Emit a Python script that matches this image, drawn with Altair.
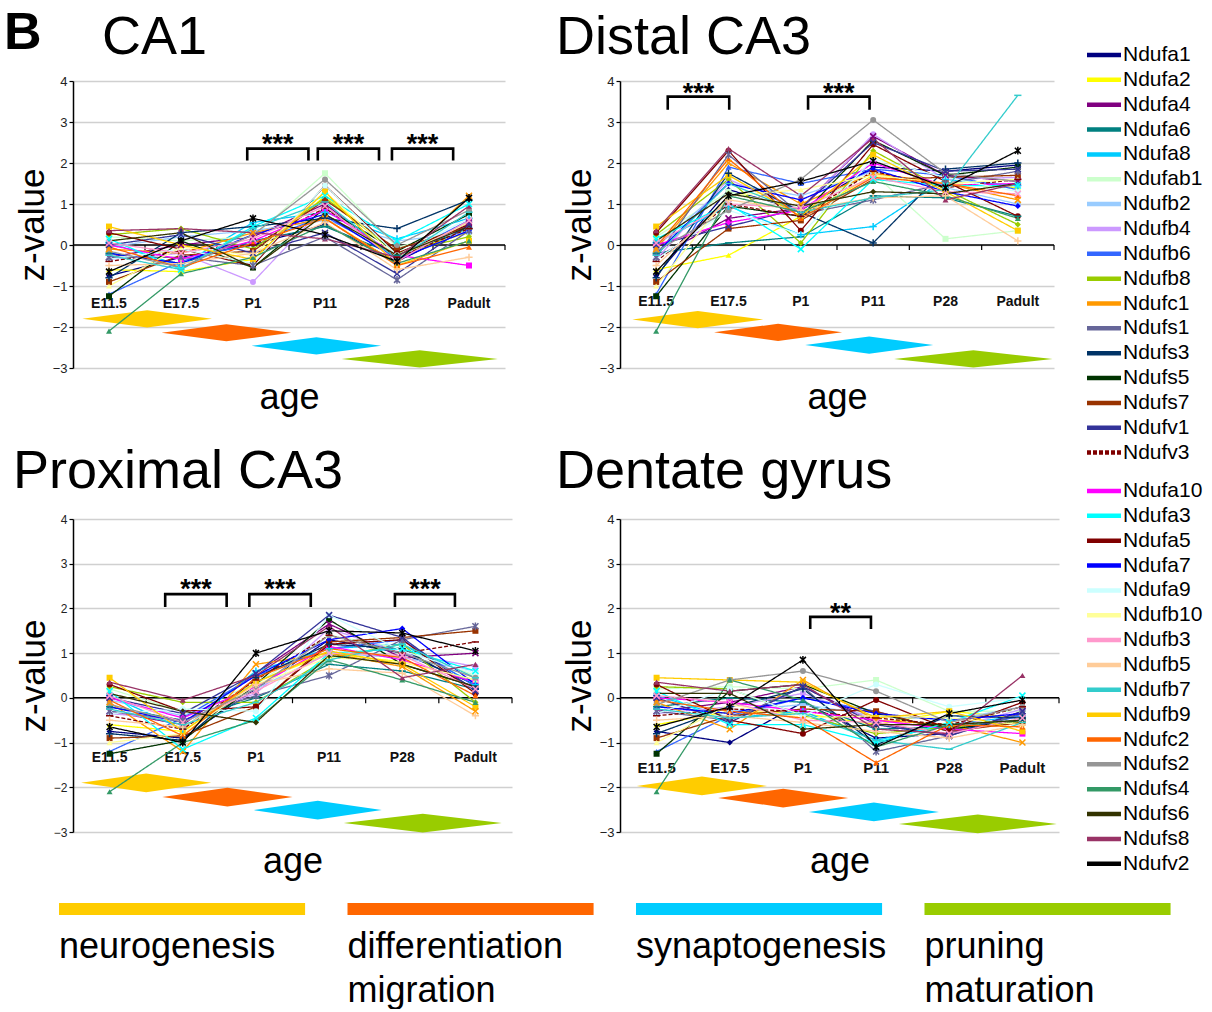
import altair as alt
import pandas as pd

FONT = "Liberation Sans"

AGES = ["E11.5", "E17.5", "P1", "P11", "P28", "Padult"]

GENES = ["Ndufa1", "Ndufa2", "Ndufa4", "Ndufa6", "Ndufa8", "Ndufab1", "Ndufb2", "Ndufb4",
         "Ndufb6", "Ndufb8", "Ndufc1", "Ndufs1", "Ndufs3", "Ndufs5", "Ndufs7", "Ndufv1", "Ndufv3",
         "Ndufa10", "Ndufa3", "Ndufa5", "Ndufa7", "Ndufa9", "Ndufb10", "Ndufb3", "Ndufb5",
         "Ndufb7", "Ndufb9", "Ndufc2", "Ndufs2", "Ndufs4", "Ndufs6", "Ndufs8", "Ndufv2"]
LEGEND_TOP = GENES[:17]
LEGEND_BOTTOM = GENES[17:]

GENE_COLORS = ["#000080", "#FFFF00", "#800080", "#008080", "#00CCFF", "#CCFFCC", "#99CCFF", "#CC99FF",
               "#3366FF", "#99CC00", "#FF9900", "#666699", "#003366", "#003300", "#993300", "#333399", "#800000",
               "#FF00FF", "#00FFFF", "#800000", "#0000FF", "#CCFFFF", "#FFFF99", "#FF99CC", "#FFCC99",
               "#33CCCC", "#FFCC00", "#FF6600", "#969696", "#339966", "#333300", "#993366", "#000000"]

GENE_MARKERS = ["diamond", "triangle", "x", "dash", "plus", "square", "circle", "circle",
                "triangle", "diamond", "x", "star", "plus", "square", "square", "x", "dash",
                "square", "x", "circle", "diamond", "circle", "triangle", "x", "plus",
                "dash", "square", "triangle", "circle", "triangle", "diamond", "triangle", "star"]

# z-values per gene: E11.5, E17.5, P1, P11, P28, Padult
CA1 = {
    "Ndufa1": [-0.75, -0.3, 0.0, 0.5, -0.4, 0.45],
    "Ndufa2": [-0.6, -0.65, -0.35, 1.2, -0.2, 0.3],
    "Ndufa4": [-0.3, 0.0, 0.2, 1.0, -0.35, 0.55],
    "Ndufa6": [-0.2, -0.45, 0.1, 0.45, -0.25, 0.4],
    "Ndufa8": [0.05, -0.5, 0.55, 0.8, 0.15, 0.65],
    "Ndufab1": [0.2, 0.1, 0.2, 1.75, -0.05, 0.35],
    "Ndufb2": [-0.05, 0.2, 0.35, 0.6, 0.1, 0.3],
    "Ndufb4": [-0.35, -0.2, -0.9, 0.95, -0.3, 0.5],
    "Ndufb6": [-1.2, -0.4, 0.05, 0.7, -0.3, 0.6],
    "Ndufb8": [0.25, 0.4, -0.1, 1.15, -0.2, 0.2],
    "Ndufc1": [-0.1, -0.2, 0.3, 0.65, -0.45, 1.2],
    "Ndufs1": [-0.3, -0.3, -0.5, 0.2, -0.85, 0.35],
    "Ndufs3": [-0.8, 0.3, 0.45, 0.65, 0.4, 1.1],
    "Ndufs5": [-1.25, 0.1, -0.55, 0.9, -0.15, 0.75],
    "Ndufs7": [-0.9, -0.25, -0.15, 1.1, -0.1, 0.45],
    "Ndufv1": [0.0, 0.25, -0.2, 0.3, -0.7, 0.5],
    "Ndufv3": [-0.4, -0.15, 0.0, 0.9, -0.3, 0.4],
    "Ndufa10": [0.0, -0.35, 0.1, 0.85, -0.25, -0.5],
    "Ndufa3": [0.15, -0.6, 0.45, 1.2, 0.1, 1.0],
    "Ndufa5": [0.3, -0.1, -0.5, 1.45, -0.2, 0.5],
    "Ndufa7": [-0.2, -0.45, 0.25, 0.75, -0.35, 0.35],
    "Ndufa9": [-0.35, -0.1, -0.45, 1.45, -0.25, 0.65],
    "Ndufb10": [-1.0, -0.05, -0.25, 1.3, -0.3, 0.55],
    "Ndufb3": [0.05, -0.2, 0.15, 0.95, -0.4, 0.6],
    "Ndufb5": [-0.5, -0.45, -0.2, 0.55, -0.6, -0.3],
    "Ndufb7": [-0.25, -0.6, 0.4, 1.05, -0.35, 0.8],
    "Ndufb9": [0.45, 0.0, -0.35, 1.3, -0.5, 0.1],
    "Ndufc2": [-0.05, -0.55, 0.05, 0.65, -0.5, -0.05],
    "Ndufs2": [-0.15, -0.55, 0.25, 1.6, 0.0, 0.85],
    "Ndufs4": [-2.1, -0.7, -0.3, 0.5, -0.45, 0.1],
    "Ndufs6": [0.1, 0.3, -0.55, 0.75, -0.25, 0.45],
    "Ndufs8": [0.35, 0.4, 0.3, 0.15, -0.3, 0.95],
    "Ndufv2": [-0.65, 0.1, 0.65, 0.25, -0.4, 1.15],
}

DISTAL_CA3 = {
    "Ndufa1": [-0.75, 1.35, 0.85, 1.9, 1.8, 1.95],
    "Ndufa2": [-0.6, -0.25, 0.7, 1.7, 1.5, 1.4],
    "Ndufa4": [-0.3, 0.65, 0.9, 2.65, 1.7, 1.55],
    "Ndufa6": [-0.2, 0.05, 0.2, 1.2, 1.15, 0.7],
    "Ndufa8": [0.05, 0.95, 0.25, 0.45, 1.6, 1.45],
    "Ndufab1": [0.2, 1.3, 0.9, 1.75, 0.15, 0.35],
    "Ndufb2": [-0.05, 1.5, 1.2, 1.8, 1.4, 1.0],
    "Ndufb4": [-0.35, 1.6, 0.85, 2.7, 1.6, 1.65],
    "Ndufb6": [-1.2, 1.9, 1.5, 1.85, 1.7, 1.35],
    "Ndufb8": [0.25, 1.6, 0.05, 2.3, 1.35, 0.5],
    "Ndufc1": [-0.1, 2.0, 1.0, 1.75, 1.5, 1.1],
    "Ndufs1": [-0.3, 2.2, 0.75, 1.1, 1.5, 1.8],
    "Ndufs3": [-0.8, 1.75, 0.8, 0.05, 1.85, 2.0],
    "Ndufs5": [-1.25, 0.95, 0.7, 2.55, 1.7, 1.9],
    "Ndufs7": [-0.9, 0.4, 0.6, 1.6, 1.65, 1.7],
    "Ndufv1": [0.0, 0.45, 0.9, 2.5, 1.8, 1.85],
    "Ndufv3": [-0.4, 1.0, 0.7, 1.8, 1.4, 1.6],
    "Ndufa10": [0.0, 0.55, 0.85, 2.0, 1.45, 1.5],
    "Ndufa3": [0.15, 1.0, -0.1, 1.6, 1.45, 1.45],
    "Ndufa5": [0.3, 2.3, 0.35, 2.45, 1.55, 0.7],
    "Ndufa7": [-0.2, 1.5, 1.1, 1.85, 1.3, 0.95],
    "Ndufa9": [-0.35, 0.85, 0.25, 2.1, 1.65, 1.3],
    "Ndufb10": [-1.0, 1.2, 1.35, 1.7, 1.5, 1.6],
    "Ndufb3": [0.05, 1.0, 0.9, 1.65, 1.3, 1.25],
    "Ndufb5": [-0.5, 1.1, 0.85, 1.15, 1.2, 0.1],
    "Ndufb7": [-0.25, 1.5, 0.8, 1.15, 1.35, 3.65],
    "Ndufb9": [0.45, 1.7, 0.7, 2.2, 1.3, 0.35],
    "Ndufc2": [-0.05, 2.1, 0.65, 1.65, 1.5, 1.2],
    "Ndufs2": [-0.15, 0.85, 1.6, 3.05, 1.75, 1.55],
    "Ndufs4": [-2.1, 1.2, 0.8, 1.55, 1.2, 0.65],
    "Ndufs6": [0.1, 1.25, 0.95, 1.3, 1.25, 1.5],
    "Ndufs8": [0.35, 2.35, 1.2, 2.6, 1.1, 1.5],
    "Ndufv2": [-0.65, 1.2, 1.55, 2.05, 1.4, 2.3],
}

PROXIMAL_CA3 = {
    "Ndufa1": [-0.75, -0.9, 0.2, 1.3, 1.0, 0.3],
    "Ndufa2": [-0.6, -0.75, 0.35, 1.0, 0.8, 0.4],
    "Ndufa4": [-0.3, -0.6, 0.55, 1.65, 0.9, 1.0],
    "Ndufa6": [-0.2, -0.5, 0.0, 0.75, 0.6, 0.2],
    "Ndufa8": [0.05, -0.7, 0.6, 1.1, 1.2, 0.3],
    "Ndufab1": [0.2, -0.3, 0.3, 1.4, 1.1, 0.5],
    "Ndufb2": [-0.05, -0.4, 0.2, 1.0, 0.9, 0.6],
    "Ndufb4": [-0.35, -0.5, 0.1, 1.55, 1.0, 0.7],
    "Ndufb6": [-1.2, -0.45, 0.5, 1.1, 1.3, 0.25],
    "Ndufb8": [0.25, -0.1, -0.1, 0.9, 1.2, -0.1],
    "Ndufc1": [-0.1, -1.2, 0.75, 1.0, 0.7, -0.3],
    "Ndufs1": [-0.3, -0.5, 0.05, 0.5, 1.3, 1.6],
    "Ndufs3": [-0.8, -0.95, 0.45, 1.2, 1.1, 0.2],
    "Ndufs5": [-1.25, -0.95, 0.3, 1.75, 0.75, 0.25],
    "Ndufs7": [-0.9, -0.85, -0.2, 1.25, 1.35, 1.5],
    "Ndufv1": [0.0, -0.35, 0.55, 1.85, 1.35, 0.15],
    "Ndufv3": [-0.4, -0.7, 0.4, 1.4, 1.0, 1.25],
    "Ndufa10": [0.0, -0.45, 0.25, 1.15, 0.85, 0.35],
    "Ndufa3": [0.15, -1.15, -0.45, 1.0, 1.1, 0.6],
    "Ndufa5": [0.3, -0.3, -0.2, 1.2, 1.3, 0.1],
    "Ndufa7": [-0.2, -0.55, 0.5, 1.3, 1.55, 0.3],
    "Ndufa9": [-0.35, -0.25, -0.3, 1.85, 1.05, 0.55],
    "Ndufb10": [-1.0, -0.8, 0.3, 0.9, 0.8, 0.4],
    "Ndufb3": [0.05, -0.55, 0.15, 1.0, 0.95, 0.2],
    "Ndufb5": [-0.5, -0.65, 0.3, 0.65, 0.55, -0.4],
    "Ndufb7": [-0.25, -0.6, -0.1, 0.85, 1.2, 0.45],
    "Ndufb9": [0.45, -0.75, 0.35, 1.05, 0.75, -0.2],
    "Ndufc2": [-0.05, -0.85, 0.45, 1.1, 0.9, 0.05],
    "Ndufs2": [-0.15, -0.55, 0.2, 1.4, 1.0, 0.45],
    "Ndufs4": [-2.1, -1.0, -0.5, 0.85, 0.4, -0.1],
    "Ndufs6": [0.1, -0.3, -0.55, 0.95, 0.75, 0.25],
    "Ndufs8": [0.35, -0.05, 0.5, 1.6, 0.45, 0.75],
    "Ndufv2": [-0.65, -1.0, 1.0, 1.5, 1.45, 1.05],
}

DENTATE_GYRUS = {
    "Ndufa1": [-0.75, -1.0, -0.1, -0.9, -0.8, -0.35],
    "Ndufa2": [-0.6, -0.3, -0.35, -0.6, -0.3, -0.45],
    "Ndufa4": [-0.3, -0.1, 0.25, -0.55, -0.85, -0.3],
    "Ndufa6": [-0.2, 0.0, -0.1, -0.7, -0.65, -0.5],
    "Ndufa8": [0.05, -0.45, -0.3, -0.95, -0.6, -0.4],
    "Ndufab1": [0.2, 0.25, 0.2, 0.4, -0.3, -0.3],
    "Ndufb2": [-0.05, -0.3, -0.15, -0.4, -0.5, -0.2],
    "Ndufb4": [-0.35, -0.2, 0.1, -0.5, -0.7, -0.25],
    "Ndufb6": [-1.2, -0.4, 0.0, -0.3, -0.75, -0.4],
    "Ndufb8": [0.25, 0.2, -0.4, -0.8, -0.65, -0.55],
    "Ndufc1": [-0.1, -0.7, 0.4, -0.5, -0.6, -1.0],
    "Ndufs1": [-0.3, -0.5, 0.25, -1.2, -0.85, -0.35],
    "Ndufs3": [-0.8, -0.2, 0.2, -1.05, -0.4, -0.45],
    "Ndufs5": [-1.25, 0.15, 0.3, -0.35, -0.7, -0.5],
    "Ndufs7": [-0.9, -0.4, -0.25, -0.3, -0.75, -0.55],
    "Ndufv1": [0.0, -0.55, 0.25, -0.6, -0.85, -0.3],
    "Ndufv3": [-0.4, -0.25, -0.3, -0.45, -0.6, -0.2],
    "Ndufa10": [0.0, -0.1, -0.3, -0.5, -0.7, -0.8],
    "Ndufa3": [0.15, -0.6, -0.6, -1.0, -0.55, 0.05],
    "Ndufa5": [0.3, -0.5, -0.8, -0.05, -0.7, -0.1],
    "Ndufa7": [-0.2, -0.35, 0.0, -0.35, -0.5, -0.35],
    "Ndufa9": [-0.35, 0.2, -0.4, 0.3, -0.2, 0.0],
    "Ndufb10": [-1.0, -0.15, -0.45, -0.4, -0.45, -0.6],
    "Ndufb3": [0.05, -0.1, -0.5, -0.55, -0.8, -0.45],
    "Ndufb5": [-0.5, -0.4, -0.55, -0.75, -0.9, -0.6],
    "Ndufb7": [-0.25, -0.45, -0.35, -0.95, -1.15, -0.55],
    "Ndufb9": [0.45, 0.4, 0.35, -0.45, -0.3, -0.75],
    "Ndufc2": [-0.05, -0.3, -0.45, -1.45, -0.6, -0.65],
    "Ndufs2": [-0.15, 0.4, 0.6, 0.15, -0.55, -0.2],
    "Ndufs4": [-2.1, 0.4, -0.05, -1.1, -0.6, -0.5],
    "Ndufs6": [0.1, 0.1, -0.7, -0.6, -0.6, -0.5],
    "Ndufs8": [0.35, 0.15, 0.3, -0.7, -0.8, 0.5],
    "Ndufv2": [-0.65, -0.2, 0.85, -1.1, -0.35, -0.05],
}

PHASE_NAMES = ["neurogenesis", "differentiation migration", "synaptogenesis", "pruning maturation"]
PHASE_LABELS = ["neurogenesis", "differentiation\nmigration", "synaptogenesis", "pruning\nmaturation"]
PHASE_COLORS = ["#FFCC00", "#FF6600", "#00CCFF", "#99CC00"]

# annotation geometry (x in age-index units, levels in z units)
NOTES = {
    "CA1": dict(phase_start=[-0.37, 0.73, 1.98, 3.23], phase_end=[1.43, 2.53, 3.78, 5.4],
                phase_level=[-1.8, -2.14, -2.46, -2.78], label_level=-1.43,
                bracket_start=[1.92, 2.9, 3.93], bracket_end=[2.77, 3.75, 4.78],
                bracket_low=2.06, bracket_high=2.35, star_level=2.62, stars=["***", "***", "***"]),
    "Distal CA3": dict(phase_start=[-0.33, 0.8, 2.06, 3.29], phase_end=[1.48, 2.57, 3.83, 5.48],
                       phase_level=[-1.82, -2.13, -2.44, -2.78], label_level=-1.38,
                       bracket_start=[0.16, 2.1], bracket_end=[1.01, 2.95],
                       bracket_low=3.3, bracket_high=3.62, star_level=3.85, stars=["***", "***"]),
    "Proximal CA3": dict(phase_start=[-0.39, 0.72, 1.97, 3.2], phase_end=[1.39, 2.5, 3.72, 5.36],
                         phase_level=[-1.9, -2.22, -2.51, -2.8], label_level=-1.35,
                         bracket_start=[0.76, 1.91, 3.9], bracket_end=[1.6, 2.75, 4.72],
                         bracket_low=2.03, bracket_high=2.32, star_level=2.57, stars=["***", "***", "***"]),
    "Dentate gyrus": dict(phase_start=[-0.27, 0.84, 2.08, 3.31], phase_end=[1.51, 2.62, 3.86, 5.47],
                          phase_level=[-1.97, -2.24, -2.55, -2.82], label_level=-1.57,
                          bracket_start=[2.1], bracket_end=[2.93],
                          bracket_low=1.54, bracket_high=1.81, star_level=2.03, stars=["**"]),
}

# ---------------------------------------------------------------- styling
SHAPE_PATHS = {
    "diamond": "diamond", "square": "square", "triangle": "triangle-up", "circle": "circle",
    "x": "M-1,-1L1,1M-1,1L1,-1",
    "star": "M-1,-1L1,1M-1,1L1,-1M0,-1.3L0,1.3",
    "plus": "M-1.2,0L1.2,0M0,-1.2L0,1.2",
    "dash": "M-1.2,0L1.2,0",
}
FILLED_MARKERS = {"diamond", "square", "triangle", "circle"}
FILLED_GENES = [g for g, m in zip(GENES, GENE_MARKERS) if m in FILLED_MARKERS]
STROKED_GENES = [g for g, m in zip(GENES, GENE_MARKERS) if m not in FILLED_MARKERS]

GENE_COLOR_SCALE = alt.Scale(domain=GENES, range=GENE_COLORS)
GENE_SHAPE_SCALE = alt.Scale(domain=GENES, range=[SHAPE_PATHS[m] for m in GENE_MARKERS])
GENE_DASH_SCALE = alt.Scale(domain=GENES, range=[[4, 2] if g == "Ndufv3" else [1, 0] for g in GENES])
LEGEND_DASH_SCALE = alt.Scale(domain=GENES, range=[[14, 3] if g == "Ndufv3" else [1, 0] for g in GENES])
PHASE_SCALE = alt.Scale(domain=PHASE_NAMES, range=PHASE_COLORS)

X_SCALE = alt.Scale(domain=[-0.5, len(AGES) - 0.5], nice=False, zero=False)
Y_SCALE = alt.Scale(domain=[-3, 4], nice=False, zero=False)
DIAMOND_HALF = 0.21


def panel(name, values, width, height, label_size, tick_size, title_x, title_y, panel_letter=None):
    notes = NOTES[name]
    x_axis = alt.Axis(title="age", labels=False, ticks=False, domain=False, grid=False,
                      titleFont=FONT, titleFontSize=36, titleFontWeight="normal",
                      titleColor="black", titlePadding=12)
    y_axis = alt.Axis(title="z-value", values=list(range(-3, 5)), format="d", grid=True,
                      gridColor="#d0d0d0", gridWidth=1.5, domainColor="black", domainWidth=1.5,
                      tickColor="black", tickSize=4, tickWidth=1.2,
                      labelFont=FONT, labelFontSize=tick_size, labelColor="#222222", labelPadding=2,
                      titleFont=FONT, titleFontSize=35, titleFontWeight="normal",
                      titleColor="black", titlePadding=2)

    def X(f):
        return alt.X(f, type="quantitative", scale=X_SCALE, axis=x_axis)

    def Y(f, stack=False):
        if stack:
            return alt.Y(f, type="quantitative", scale=Y_SCALE, axis=y_axis, stack=None)
        return alt.Y(f, type="quantitative", scale=Y_SCALE, axis=y_axis)

    drows = []
    for k, ph in enumerate(PHASE_NAMES):
        x0, x1, lv = notes["phase_start"][k], notes["phase_end"][k], notes["phase_level"][k]
        drows += [dict(phase=ph, x=x0, lo=lv, hi=lv),
                  dict(phase=ph, x=(x0 + x1) / 2, lo=lv - DIAMOND_HALF, hi=lv + DIAMOND_HALF),
                  dict(phase=ph, x=x1, lo=lv, hi=lv)]
    diamonds = alt.Chart(pd.DataFrame(drows)).mark_area(opacity=1, interpolate="linear").encode(
        x=X("x"), y=Y("lo", stack=True), y2="hi",
        fill=alt.Fill("phase:N", scale=PHASE_SCALE, legend=None),
        detail="phase:N")

    ldf = pd.DataFrame(dict(x=list(range(len(AGES))), age=AGES,
                            lv=[notes["label_level"]] * len(AGES)))
    labels = alt.Chart(ldf).mark_text(font=FONT, fontSize=label_size, fontWeight="bold",
                                      color="#111111", baseline="middle").encode(
        x=X("x"), y=Y("lv"), text="age:N")

    zero = alt.Chart(pd.DataFrame(dict(z=[0]))).mark_rule(color="black", strokeWidth=1.5).encode(y=Y("z"))
    bdf = pd.DataFrame(dict(x=[i + 0.5 for i in range(len(AGES))]))
    bticks = alt.Chart(bdf).transform_calculate(y0="0", y1="-0.12").mark_rule(
        color="black", strokeWidth=1.2).encode(x=X("x"), y=Y("y0:Q"), y2="y1:Q")

    rows = [dict(gene=g, x=i, z=v) for g in GENES for i, v in enumerate(values[g])]
    df = pd.DataFrame(rows)
    lines = alt.Chart(df).mark_line(strokeWidth=1.3).encode(
        x=X("x"), y=Y("z"),
        color=alt.Color("gene:N", scale=GENE_COLOR_SCALE, legend=None),
        strokeDash=alt.StrokeDash("gene:N", scale=GENE_DASH_SCALE, legend=None),
        detail="gene:N", order="x:Q")
    pts_f = alt.Chart(df).transform_filter(
        alt.FieldOneOfPredicate(field="gene", oneOf=FILLED_GENES)).mark_point(
        filled=True, size=36, opacity=1).encode(
        x=X("x"), y=Y("z"),
        color=alt.Color("gene:N", scale=GENE_COLOR_SCALE, legend=None),
        shape=alt.Shape("gene:N", scale=GENE_SHAPE_SCALE, legend=None))
    pts_s = alt.Chart(df).transform_filter(
        alt.FieldOneOfPredicate(field="gene", oneOf=STROKED_GENES)).mark_point(
        filled=False, size=36, opacity=1, strokeWidth=1.5).encode(
        x=X("x"), y=Y("z"),
        color=alt.Color("gene:N", scale=GENE_COLOR_SCALE, legend=None),
        shape=alt.Shape("gene:N", scale=GENE_SHAPE_SCALE, legend=None))

    brows, srows = [], []
    for b, (x0, x1) in enumerate(zip(notes["bracket_start"], notes["bracket_end"])):
        lo, hi = notes["bracket_low"], notes["bracket_high"]
        brows += [dict(b=b, o=0, x=x0, y=lo), dict(b=b, o=1, x=x0, y=hi),
                  dict(b=b, o=2, x=x1, y=hi), dict(b=b, o=3, x=x1, y=lo)]
        srows.append(dict(x=(x0 + x1) / 2, y=notes["star_level"], t=notes["stars"][b]))
    brackets = alt.Chart(pd.DataFrame(brows)).mark_line(color="black", strokeWidth=2.6).encode(
        x=X("x"), y=Y("y"), detail="b:N", order="o:Q")
    stars = alt.Chart(pd.DataFrame(srows)).mark_text(
        font=FONT, fontSize=27, fontWeight="bold", color="black",
        baseline="alphabetic", dy=15).encode(x=X("x"), y=Y("y"), text="t:N")

    title = alt.Chart(pd.DataFrame(dict(t=[name]))).mark_text(
        font=FONT, fontSize=54, color="black", align="left", baseline="alphabetic").encode(
        x=alt.value(title_x), y=alt.value(title_y), text="t:N")

    layers = [diamonds, labels, zero, bticks, lines, pts_f, pts_s, brackets, stars, title]
    if panel_letter:
        letter = alt.Chart(pd.DataFrame(dict(t=[panel_letter]))).mark_text(
            font=FONT, fontSize=52, fontWeight="bold", color="black", align="left",
            baseline="alphabetic").encode(x=alt.value(-69), y=alt.value(-32), text="t:N")
        layers.append(letter)

    return alt.layer(*layers).properties(width=width, height=height)


ca1 = panel("CA1", CA1, 432, 287, 14, 13, 29, -27, panel_letter="B")
distal = panel("Distal CA3", DISTAL_CA3, 434, 287, 14, 13, -64, -27)
prox = panel("Proximal CA3", PROXIMAL_CA3, 439, 313, 14, 12, -60, -31)
dg = panel("Dentate gyrus", DENTATE_GYRUS, 439, 313, 15, 13, -64, -31)


def gene_legend(names, first_slot_px, height):
    step = 24.85
    d = pd.DataFrame(dict(gene=names, slot=list(range(len(names)))))
    lo = -first_slot_px / step
    hi = (height - first_slot_px) / step
    ly = alt.Y("slot:Q", scale=alt.Scale(domain=[lo, hi], reverse=True, nice=False, zero=False), axis=None)
    sw = alt.Chart(d).mark_rule(strokeWidth=4.5).encode(
        x=alt.value(-80), x2=alt.value(-46), y=ly,
        color=alt.Color("gene:N", scale=GENE_COLOR_SCALE, legend=None),
        strokeDash=alt.StrokeDash("gene:N", scale=LEGEND_DASH_SCALE, legend=None))
    tx = alt.Chart(d).mark_text(font=FONT, fontSize=21, align="left", baseline="middle",
                                color="black").encode(x=alt.value(-44), y=ly, text="gene:N")
    return alt.layer(sw, tx).properties(width=20, height=height)


leg_top = gene_legend(LEGEND_TOP, -26, 287)
leg_bottom = gene_legend(LEGEND_BOTTOM, -28, 313)

ph_df = pd.DataFrame(dict(i=list(range(len(PHASE_NAMES))), phase=PHASE_NAMES, label=PHASE_LABELS))
bx = alt.X("i:Q", scale=alt.Scale(domain=[0.0485, 1.5702], nice=False, zero=False), axis=None)
ph_bars = alt.Chart(ph_df).transform_calculate(i2="datum.i + 0.853").mark_rect().encode(
    x=bx, x2="i2:Q", y=alt.value(-80), y2=alt.value(-68),
    fill=alt.Fill("phase:N", scale=PHASE_SCALE, legend=None))
ph_text = alt.Chart(ph_df).mark_text(font=FONT, fontSize=36, align="left", baseline="alphabetic",
                                     lineBreak="\n", lineHeight=44, color="black").encode(
    x=bx, y=alt.value(-25), text="label:N")
phase_legend = alt.layer(ph_bars, ph_text).properties(width=439, height=20)

chart = alt.concat(
    ca1, distal, leg_top, prox, dg, leg_bottom, phase_legend,
    columns=3, spacing=alt.RowColnumber(row=151, column=108), bounds="flush", align="each",
).properties(
    padding={"left": 4, "top": 7, "right": 0, "bottom": 0},
    background="white",
).configure(font=FONT).configure_view(stroke=None)

chart.save("out.html", embed_options={"renderer": "svg", "actions": False})
